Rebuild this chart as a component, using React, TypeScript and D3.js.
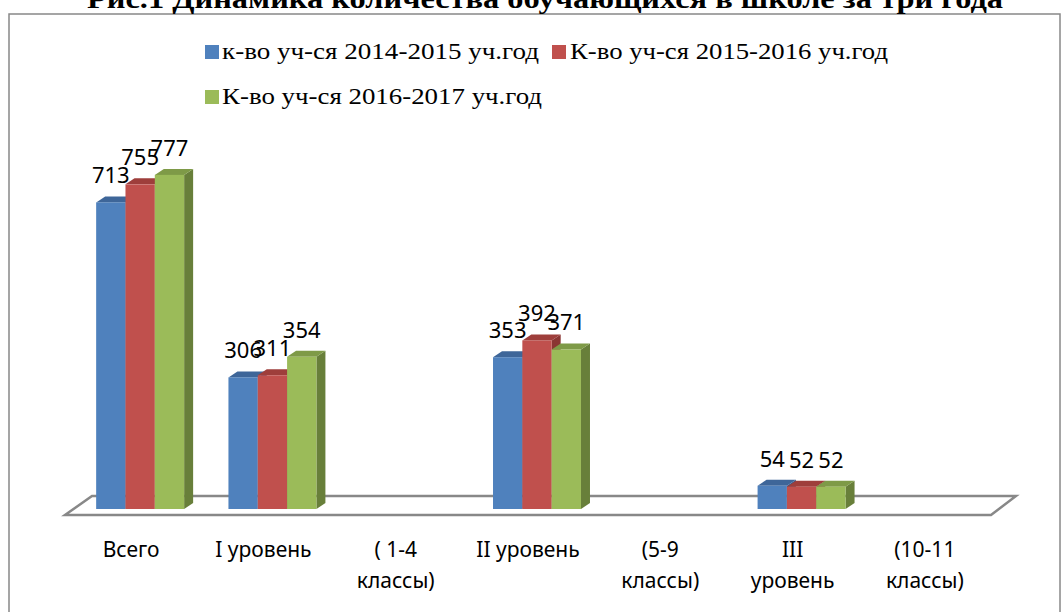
import React from 'react';
import * as d3 from 'd3';

// categories along the axis, each label split into its wrapped lines
const categories = ['Всего', 'I уровень', '( 1-4 классы)', 'II уровень', '(5-9 классы)', 'III уровень', '(10-11 классы)'];
const categoryLines = [
  ['Всего'],
  ['I уровень'],
  ['( 1-4', 'классы)'],
  ['II уровень'],
  ['(5-9', 'классы)'],
  ['III', 'уровень'],
  ['(10-11', 'классы)'],
];

const seriesNames = ['к-во уч-ся 2014-2015 уч.год', 'К-во уч-ся 2015-2016 уч.год', 'К-во уч-ся 2016-2017 уч.год'];
const values2014 = [713, 306, null, 353, null, 54, null];
const values2015 = [755, 311, null, 392, null, 52, null];
const values2016 = [777, 354, null, 371, null, 52, null];

const fronts = ['#4F81BD', '#C0504D', '#9BBB59'];
const tops = ['#3E6699', '#9E3E3B', '#7E9A47'];
const sides = ['#36598A', '#8A3532', '#687F3A'];

const title = 'Рис.1 Динамика количества обучающихся в школе за три года';

const W = 1062;
const H = 612;

// floor geometry
const floorFront = 515;
const floorBack = 496;
const floorLeft = 65;
const floorRight = 991;
const floorDx = 27;
const barDx = 9;
const barDy = -6;

const serif = 'Liberation Serif, Tinos, Times New Roman, serif';
const sans = 'Noto Sans, sans-serif';

const App = () => {
  const series = [values2014, values2015, values2016];

  const x0 = d3.scaleBand<string>()
    .domain(categories)
    .range([floorLeft, floorRight])
    .padding(0);

  const groupW = x0.bandwidth() * 0.665;

  const x1 = d3.scaleBand<number>()
    .domain([0, 1, 2])
    .range([0, groupW])
    .padding(0);

  const y = d3.scaleLinear()
    .domain([0, 800])
    .range([509, 165]);

  const groupStart = (c: string) =>
    (x0(c) as number) + (x0.bandwidth() - groupW) / 2 + (floorDx - barDx) / 2;

  const bars: React.ReactNode[] = [];
  const labels: React.ReactNode[] = [];
  categories.forEach((c, ci) => {
    series.forEach((s, si) => {
      const v = s[ci];
      if (v == null) return;
      const bx = groupStart(c) + (x1(si) as number);
      const bw = x1.bandwidth();
      const yt = y(v);
      const yb = y(0);
      const side = `${bx + bw},${yt} ${bx + bw + barDx},${yt + barDy} ${bx + bw + barDx},${yb + barDy} ${bx + bw},${yb}`;
      const top = `${bx},${yt} ${bx + bw},${yt} ${bx + bw + barDx},${yt + barDy} ${bx + barDx},${yt + barDy}`;
      bars.push(
        <g key={`b${ci}-${si}`}>
          <polygon points={side} fill={sides[si]} />
          <polygon points={top} fill={tops[si]} />
          <rect x={bx} y={yt} width={bw} height={yb - yt} fill={fronts[si]} />
        </g>
      );
      labels.push(
        <text key={`l${ci}-${si}`} x={bx + bw / 2} y={yt - 19} textAnchor="middle"
          style={{ fontFamily: sans, fontSize: 22 }} fill="#000">{v}</text>
      );
    });
  });

  const floor = `${floorLeft + floorDx},${floorBack} ${floorRight + floorDx - 2},${floorBack} ${floorRight},${floorFront} ${floorLeft},${floorFront}`;

  const legend = [
    { x: 205, y: 45, tx: 222, len: 317 },
    { x: 552, y: 45, tx: 570, len: 318 },
    { x: 205, y: 90, tx: 222, len: 320 },
  ];

  return (
    <svg width={W} height={H} style={{ position: 'absolute', left: 0, top: 0, background: '#fff' }}>
      <rect x={9} y={14} width={1051} height={620} fill="#fff" stroke="#888" strokeWidth={1.5} />
      <text x={545} y={8} textAnchor="middle" style={{ fontFamily: serif, fontWeight: 'bold', fontSize: 28 }}
        textLength={916} lengthAdjust="spacingAndGlyphs">{title}</text>

      {legend.map((l, i) => (
        <g key={i}>
          <rect x={l.x} y={l.y} width={14} height={14} fill={fronts[i]} />
          <text x={l.tx} y={l.y + 14} style={{ fontFamily: serif, fontSize: 24 }}
            textLength={l.len} lengthAdjust="spacingAndGlyphs">{seriesNames[i]}</text>
        </g>
      ))}

      <polygon points={floor} fill="#fff" stroke="#888" strokeWidth={2.5} strokeLinejoin="miter" />
      {bars}
      {labels}

      {categories.map((c, i) => (
        <text key={c} textAnchor="middle" style={{ fontFamily: sans, fontSize: 21 }} fill="#000">
          {categoryLines[i].map((line, li) => (
            <tspan key={li} x={(x0(c) as number) + x0.bandwidth() / 2} y={557 + li * 31}>{line}</tspan>
          ))}
        </text>
      ))}
    </svg>
  );
};

export default App;
